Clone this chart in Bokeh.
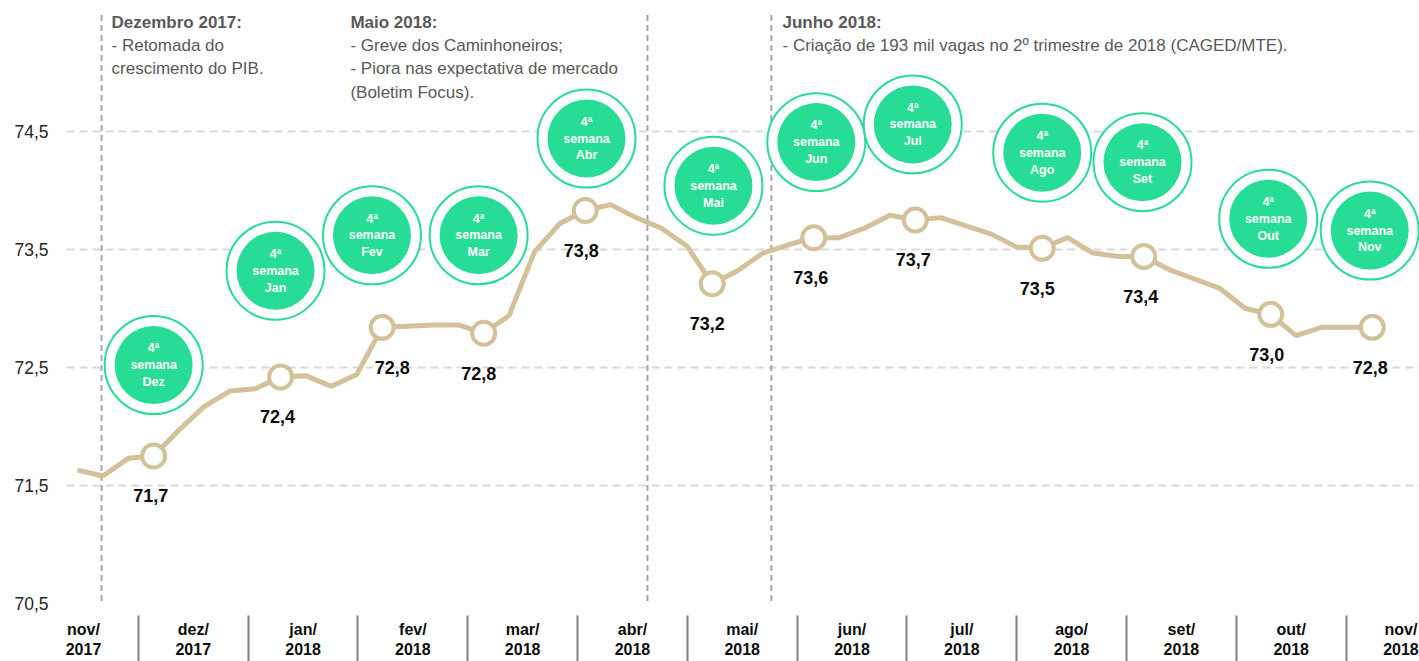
from bokeh.plotting import figure
from bokeh.models import FixedTicker, Range1d
from bokeh.core.properties import value
from bokeh.embed import file_html
from bokeh.resources import INLINE

# ---------------- data ----------------
# weekly index (0 = last week of nov/2017)
values = [71.63, 71.58, 71.73, 71.75, 71.97, 72.17, 72.30, 72.32, 72.42, 72.43, 72.34, 72.44,
          72.84, 72.85, 72.86, 72.86, 72.79, 72.94, 73.48, 73.72, 73.83, 73.88, 73.77, 73.68,
          73.53, 73.21, 73.32, 73.47, 73.54, 73.60, 73.60, 73.68, 73.79, 73.75, 73.77, 73.70,
          73.63, 73.52, 73.51, 73.60, 73.47, 73.44, 73.44, 73.33, 73.25, 73.17, 73.00, 72.95,
          72.77, 72.84, 72.84, 72.84]
weeks = list(range(len(values)))

highlight_weeks = [3, 8, 12, 16, 20, 25, 29, 33, 38, 42, 47, 51]
highlight_labels = ["71,7", "72,4", "72,8", "72,8", "73,8", "73,2", "73,6", "73,7", "73,5", "73,4", "73,0", "72,8"]
badge_months = ["Dez", "Jan", "Fev", "Mar", "Abr", "Mai", "Jun", "Jul", "Ago", "Set", "Out", "Nov"]

month_labels = ["nov/\n2017", "dez/\n2017", "jan/\n2018", "fev/\n2018", "mar/\n2018", "abr/\n2018",
                "mai/\n2018", "jun/\n2018", "jul/\n2018", "ago/\n2018", "set/\n2018", "out/\n2018",
                "nov/\n2018"]
y_ticks = [70.5, 71.5, 72.5, 73.5, 74.5]
y_tick_labels = ["70,5", "71,5", "72,5", "73,5", "74,5"]

event_titles = ["Dezembro 2017:", "Maio 2018:", "Junho 2018:"]
event_lines = [["- Retomada do", "crescimento do PIB."],
               ["- Greve dos Caminhoneiros;", "- Piora nas expectativa de mercado", "(Boletim Focus)."],
               ["- Criação de 193 mil vagas no 2º trimestre de 2018 (CAGED/MTE)."]]

# ---------------- layout helpers ----------------
FONT = value("Liberation Sans")
LINE_C = "#D3C199"
GREEN = "#27DC94"
TXT_GRAY = "#595959"

month_x = [0.236 + 4.3245 * k for k in range(len(month_labels))]
sep_x = [0.236 + 4.3245 * (k + 0.5) for k in range(len(month_labels) - 1)]
event_x = [0.945, 22.45, 27.33]
event_text_x = [1.34, 10.75, 27.77]

badge_x = [3.0, 7.8, 11.6, 15.8, 20.05, 25.05, 29.1, 32.9, 38.0, 41.95, 46.9, 50.9]
badge_y = [72.52, 73.32, 73.62, 73.62, 74.44, 74.04, 74.41, 74.56, 74.32, 74.24, 73.76, 73.66]
label_dx = [-3, -3, 10, -5, -4, -5, -3, -2, -5, -3, -4, -2]

p = figure(width=1419, height=661, output_backend="svg", toolbar_location=None,
           x_range=Range1d(-0.433, 52.86), y_range=Range1d(70.415, 75.61),
           min_border_left=66, min_border_right=0, min_border_top=0, min_border_bottom=48)
p.outline_line_color = None
p.background_fill_color = "white"
p.border_fill_color = "white"

p.xgrid.visible = False
p.ygrid.ticker = FixedTicker(ticks=y_ticks[1:])
p.ygrid.grid_line_color = "#D9D9D9"
p.ygrid.grid_line_dash = "8 5"
p.ygrid.grid_line_width = 2

ya = p.yaxis[0]
ya.ticker = FixedTicker(ticks=y_ticks)
ya.major_label_overrides = {t: l for t, l in zip(y_ticks, y_tick_labels)}
ya.axis_line_color = None
ya.major_tick_line_color = None
ya.minor_tick_line_color = None
ya.major_tick_out = 0
ya.major_tick_in = 0
ya.minor_tick_out = 0
ya.minor_tick_in = 0
ya.major_label_standoff = 18
ya.major_label_text_font = "Liberation Sans"
ya.major_label_text_font_size = "17.5px"
ya.major_label_text_color = "#262626"

xa = p.xaxis[0]
xa.ticker = FixedTicker(ticks=month_x, minor_ticks=sep_x)
xa.major_label_overrides = {t: l for t, l in zip(month_x, month_labels)}
xa.axis_line_color = None
xa.major_tick_line_color = None
xa.major_tick_out = 0
xa.major_tick_in = 0
xa.minor_tick_line_color = "#7F7F7F"
xa.minor_tick_line_width = 2
xa.minor_tick_in = -48
xa.minor_tick_out = 2
xa.major_label_standoff = 5
xa.major_label_text_font = "Liberation Sans"
xa.major_label_text_font_style = "bold"
xa.major_label_text_font_size = "16px"
xa.major_label_text_color = "#0D0D0D"

# event dashed lines
p.segment(x0=event_x, y0=[70.52] * 3, x1=event_x, y1=[75.50] * 3,
          line_color="#A6A6A6", line_width=2, line_dash="6 4")

# event texts
tx, ty, tt = [], [], []
for ex, title in zip(event_text_x, event_titles):
    tx.append(ex); ty.append(75.424); tt.append(title)
p.text(x=tx, y=ty, text=tt, text_font=FONT, text_font_style="bold", text_font_size="17px",
       text_color=TXT_GRAY, text_align="left", text_baseline="middle")
bx, by, bt = [], [], []
for ex, lines in zip(event_text_x, event_lines):
    for i, ln in enumerate(lines):
        bx.append(ex); by.append(75.424 - (i + 1) * 0.197); bt.append(ln)
p.text(x=bx, y=by, text=bt, text_font=FONT, text_font_size="17px",
       text_color=TXT_GRAY, text_align="left", text_baseline="middle")

# main line
p.line(weeks, values, line_color=LINE_C, line_width=5)

hy = [values[w] for w in highlight_weeks]
p.scatter(highlight_weeks, hy, size=23, fill_color="white", line_color=LINE_C, line_width=4)
p.text(x=highlight_weeks, y=hy, text=highlight_labels, x_offset=label_dx, y_offset=40,
       text_font=FONT, text_font_style="bold", text_font_size="18px", text_color="#0D0D0D",
       text_align="center", text_baseline="middle")

# badges
p.scatter(badge_x, badge_y, size=98, fill_color="white", line_color=GREEN, line_width=2)
p.scatter(badge_x, badge_y, size=78, fill_color=GREEN, line_color=None)
p.text(x=badge_x, y=badge_y, text=["4ª\nsemana\n" + m for m in badge_months],
       text_font=FONT, text_font_style="bold", text_font_size="12.5px", text_color="white",
       text_align="center", text_baseline="middle", text_line_height=1.2)

open("out.html", "w").write(file_html(p, INLINE))
